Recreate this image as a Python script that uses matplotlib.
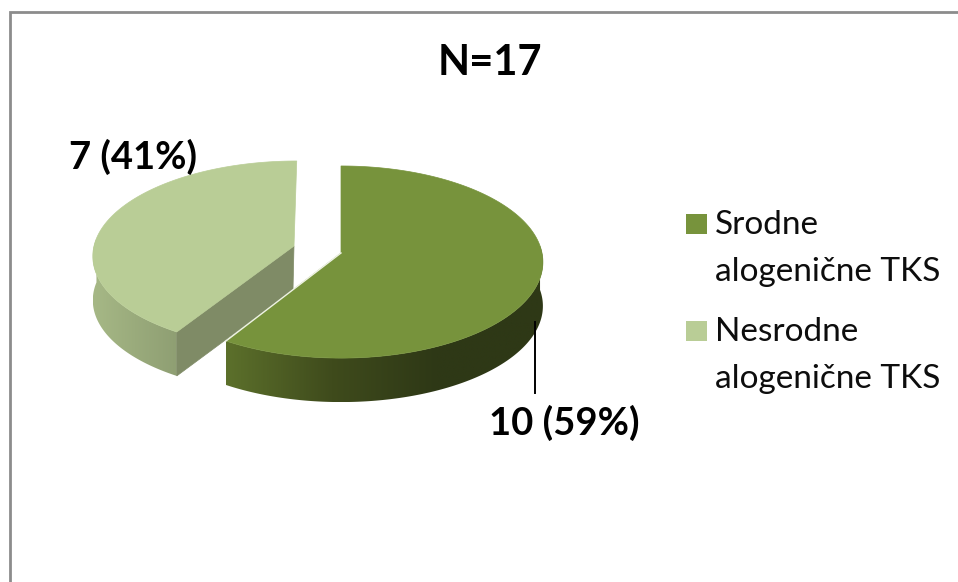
import matplotlib
matplotlib.use("Agg")
import matplotlib.pyplot as plt
import numpy as np
from matplotlib.colors import LinearSegmentedColormap
from matplotlib.patches import Polygon, Rectangle

plt.rcParams["font.family"] = ["Lato", "Open Sans", "DejaVu Sans"]

# --------------------------------------------------------------------------- #
# Data
# --------------------------------------------------------------------------- #
title = "N=17"
categories = ["Srodne\nalogenične TKS", "Nesrodne\nalogenične TKS"]
values = [10, 7]
value_labels = ["10 (59%)", "7 (41%)"]

top_colors = ["#77933c", "#b9cd96"]
WALL_CUT = "#7f8b66"
WALL_RAMPS = [["#5c702b", "#3f4b1c", "#2e3816", "#2e3816"], ["#a6b886", "#9aab7c", "#8f9f73"]]

W, H, DEPTH = 958, 582, 44
PERSP = 0.094
SLICES = [
    {"cx": 341, "cy": 253, "rx": 201, "ry": 95.2, "skew": 0},  # main slice
    {"cx": 294, "cy": 246, "rx": 200, "ry": 93, "skew": 3},    # exploded slice
]


def project(theta, r, s):
    """Pie plan coords (clockwise from 12 o'clock) -> pixel coords, slight perspective."""
    u, v = r * np.sin(theta), r * np.cos(theta)
    w = 1 + PERSP * v
    return s["cx"] + (s["rx"] * u + s["skew"] * v) / w, s["cy"] - s["ry"] * v / w


def draw_wall(ax, a0, a1, s, wall_ramp):
    """Outer wall, only the part facing the viewer, with a left-right gradient."""
    th = np.linspace(a0, a1, 300)
    x, y = project(th, 1, s)
    front = np.cos(th) < PERSP * 0.9
    xf, yf = x[front], y[front]
    outline = np.r_[np.c_[xf, yf], np.c_[xf[::-1], yf[::-1] + DEPTH]]
    poly = Polygon(outline, closed=True, fc="none", ec="none", transform=ax.transData)
    ax.add_patch(poly)
    cmap = LinearSegmentedColormap.from_list("wall", wall_ramp)
    im = ax.imshow(np.linspace(0, 1, 256)[None, :], cmap=cmap, aspect="auto", zorder=1,
                   extent=(xf.min(), xf.max(), yf.max() + DEPTH, yf.min()))
    im.set_clip_path(poly)
    return x, y


fig = plt.figure(figsize=(W / 100, H / 100), dpi=100, facecolor="white")
ax = fig.add_axes([0, 0, 1, 1])
ax.axis("off")

# chart frame: only left and top edges are inside the crop
ax.plot([10.5, 10.5, W], [H, 11.5, 11.5], color="#8c8c8c", lw=2.0, solid_joinstyle="miter")

fractions = np.array(values) / sum(values)
split = 2 * np.pi * fractions[0]

# exploded slice first, main slice over it
s = SLICES[1]
x, y = draw_wall(ax, split, 2 * np.pi, s, WALL_RAMPS[1])
ax_, ay_ = project(0.0, 0, s)
ax.add_patch(Polygon([(ax_, ay_), (x[0], y[0]), (x[0], y[0] + DEPTH), (ax_ - 1, ay_ + DEPTH)],
                     closed=True, fc=WALL_CUT, ec=WALL_CUT, lw=0.5, zorder=1.5))
ax.add_patch(Polygon(np.r_[[(ax_, ay_)], np.c_[x, y]], closed=True,
                     fc=top_colors[1], ec=top_colors[1], lw=0.5, zorder=1.6))

s = SLICES[0]
x, y = draw_wall(ax, 0, split, s, WALL_RAMPS[0])
ax_, ay_ = project(0.0, 0, s)
ax.add_patch(Polygon(np.r_[[(ax_, ay_)], np.c_[x, y]], closed=True,
                     fc=top_colors[0], ec=top_colors[0], lw=0.5, zorder=2))
ax.plot([ax_, x[-1]], [ay_, y[-1]], color="#eef2e4", lw=1.0, zorder=2.1)

# labels
ax.plot([535, 535], [322, 393], color="black", lw=1.4, zorder=3)
ax.text(564, 423, value_labels[0], ha="center", va="center", fontsize=27.5, fontweight="bold")
ax.text(133, 157, value_labels[1], ha="center", va="center", fontsize=27.5, fontweight="bold", zorder=4)
ax.text(490, 63, title, ha="center", va="center", fontsize=30, fontweight="bold")

# legend
for color, label, ly in zip(top_colors, categories, [224, 331]):
    ax.add_patch(Rectangle((686, ly - 10), 21, 20, fc=color, ec="none"))
    ax.text(715, ly - 14, label, ha="left", va="top", fontsize=24, linespacing=1.7, color="#0d0d0d")

ax.set_xlim(0, W)
ax.set_ylim(H, 0)
fig.savefig("out.png", dpi=100, facecolor="white")
